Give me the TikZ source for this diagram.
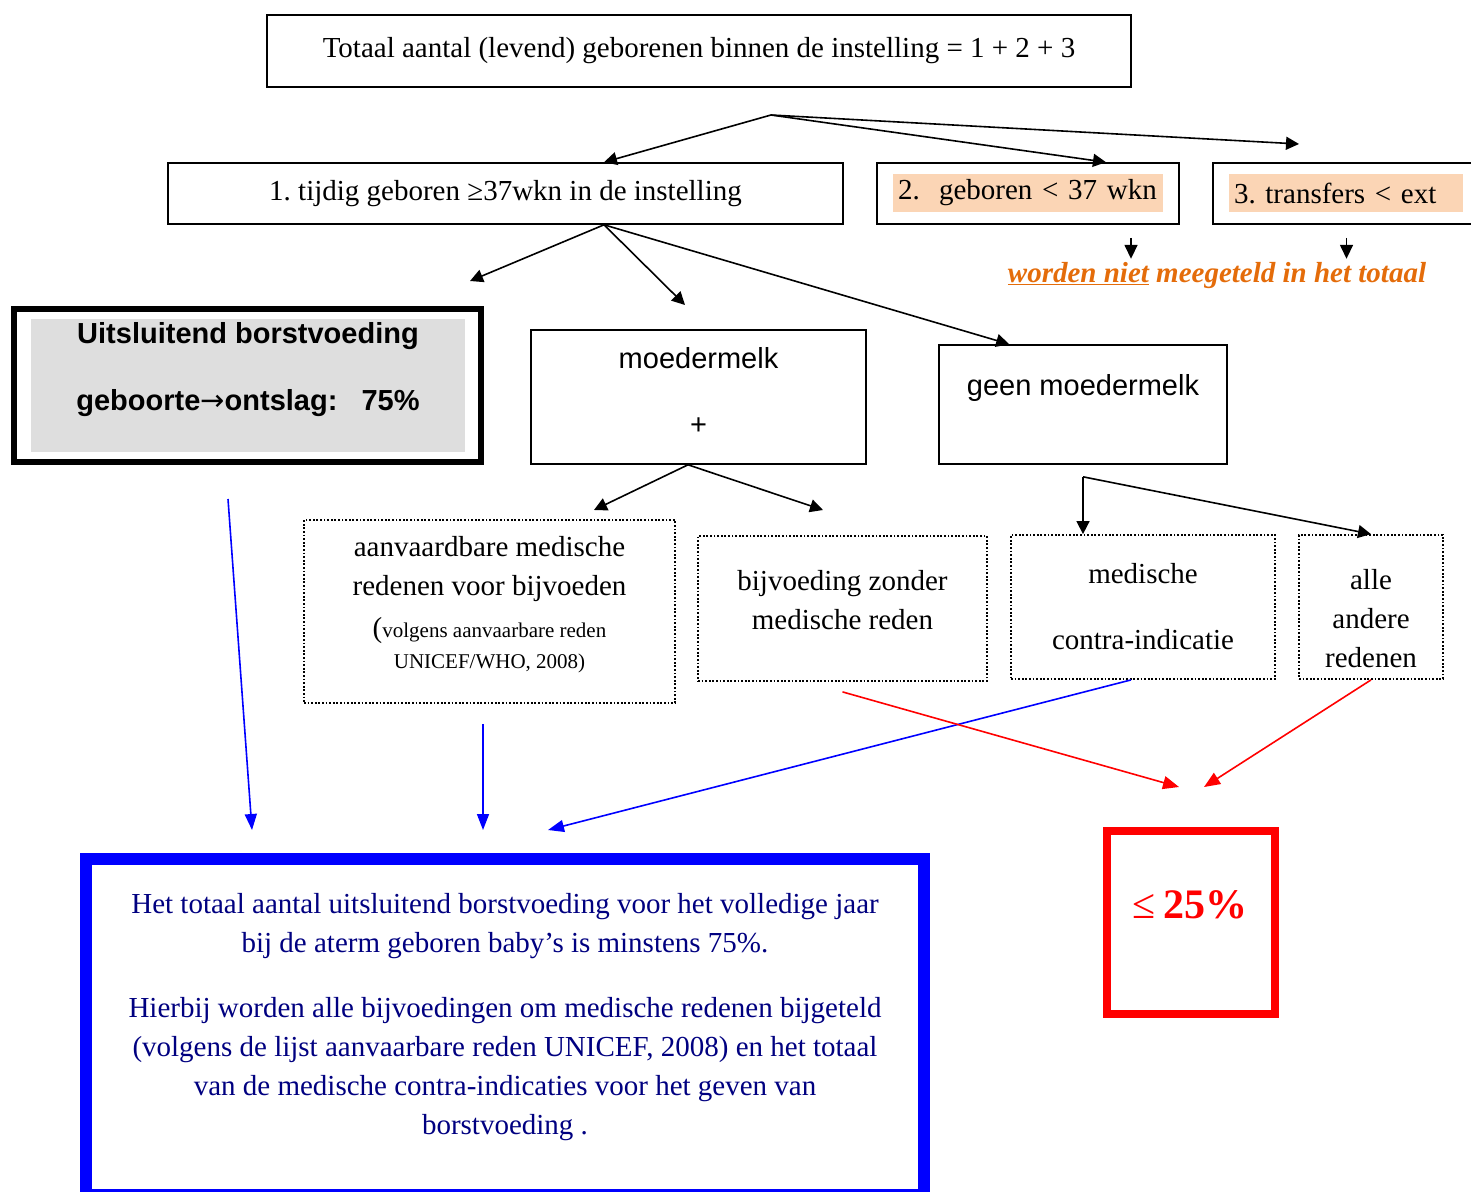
\documentclass[tikz,border=0pt]{standalone}
\usepackage{fontspec}
\setmainfont{Liberation Serif}
\setsansfont{Liberation Sans}
\newfontfamily\pijlfont{DejaVu Sans}
\usetikzlibrary{arrows.meta}

\definecolor{peach}{RGB}{251,213,181}
\definecolor{oranje}{RGB}{228,108,10}
\definecolor{navy}{RGB}{0,0,128}
\definecolor{grijs}{RGB}{222,222,222}
\newcommand{\grootschrift}{\fontsize{29}{39}\selectfont\frenchspacing}

\tikzset{
  box/.style={draw, line width=1.6pt, inner sep=0pt},
  dotbox/.style={draw, line width=1.8pt, dash pattern=on 1.8pt off 1.8pt, inner sep=0pt},
  pijl/.style={line width=1.6pt, -{Triangle[length=13pt,width=13pt]}},
  kleinpijl/.style={line width=1.6pt, -{Triangle[length=14pt,width=13pt]}},
  blauwpijl/.style={blue, line width=1.6pt, -{Triangle[length=16pt,width=12pt]}},
  roodpijl/.style={red, line width=1.6pt, -{Triangle[length=16pt,width=13pt]}}
}

\begin{document}
\begin{tikzpicture}[x=1pt, y=-1pt, font=\grootschrift, align=center]
\useasboundingbox (0,0) rectangle (1471,1191);

\node (totaal) [box, minimum width=864, minimum height=72] at (699,51) {Totaal aantal (levend) geborenen binnen de instelling = 1 + 2 + 3};

\node (een) [box, minimum width=675, minimum height=61] at (505.5,193.5) {1. tijdig geboren ≥37wkn in de instelling};
\node (twee) [box, minimum width=302, minimum height=61] at (1028,193.5) {};
\node (tweetekst) [fill=peach, text width=260, inner xsep=5pt, inner ysep=0pt, minimum height=38, align=left] at (1028,193) {2.\ \ geboren < 37 wkn};
\node (drie) [box, minimum width=267, minimum height=61] at (1346.5,193.5) {};
\node (drietekst) [fill=peach, text width=224, inner xsep=5pt, inner ysep=0pt, minimum height=38, align=left] at (1346,193) {3. transfers < ext};

\node (nietgeteld) [text=oranje, font=\grootschrift\bfseries\itshape] at (1217,276) {\underline{worden niet} meegeteld in het totaal};

\node (borst) [box, line width=6pt, minimum width=467, minimum height=153] at (247.5,385.5) {};
\node (borstgrijs) [fill=grijs, minimum width=434, minimum height=133] at (248,385.5) {};
\node (borsttekst) [font=\grootschrift\sffamily\bfseries] at (248,369.5) {Uitsluitend borstvoeding\\[28pt]geboorte{\pijlfont\mdseries →}ontslag:\ \ \ 75\%};

\node (moeder) [box, minimum width=335, minimum height=134] at (698.5,397) {};
\node (moedertekst) [font=\grootschrift\sffamily] at (698.5,391) {moedermelk\\[27pt]+};
\node (geen) [box, minimum width=288, minimum height=119] at (1083,404.5) {};
\node (geentekst) [font=\grootschrift\sffamily] at (1083,388) {geen moedermelk};

\node (aanv) [dotbox, minimum width=371, minimum height=183] at (489.5,611.5) {};
\node (aanvtekst) at (489.5,569) {aanvaardbare medische\\redenen voor bijvoeden};
\node (aanvbron) [font=\fontsize{21}{31}\selectfont] at (489.5,645) {{\grootschrift(}volgens aanvaarbare reden\\UNICEF/WHO, 2008)};
\node (bijv) [dotbox, minimum width=289, minimum height=145] at (842.5,608.5) {};
\node (bijvtekst) at (842.5,600.5) {bijvoeding zonder\\medische reden};
\node (med) [dotbox, minimum width=264, minimum height=144] at (1143,607) {};
\node (medtekst) at (1143,607) {medische\\[27pt]contra-indicatie};
\node (alle) [dotbox, minimum width=144, minimum height=144] at (1371,607) {};
\node (alletekst) at (1371,618.5) {alle\\andere\\redenen};

\node (jaar) [draw=blue, line width=12pt, inner sep=0pt, minimum width=838, minimum height=336] at (505,1027) {};
\node (jaartekst) [text=navy] at (505,1017.5) {Het totaal aantal uitsluitend borstvoeding voor het volledige jaar\\bij de aterm geboren baby’s is minstens 75\%.\\[26pt]Hierbij worden alle bijvoedingen om medische redenen bijgeteld\\(volgens de lijst aanvaarbare reden UNICEF, 2008) en het totaal\\van de medische contra-indicaties voor het geven van\\borstvoeding .};

\node (kwart) [draw=red, line width=8pt, inner sep=0pt, minimum width=168, minimum height=183] at (1191,922.5) {};
\node (kwarttekst) [text=red, font=\fontsize{42}{50}\selectfont] at (1190,905) {≤\,\textbf{25\%}};

\coordinate (splitsing) at (771,115);
\coordinate (drieIn) at (1299,144);
\coordinate (eenOnder) at ([xshift=98.5pt]een.south);
\coordinate (borstIn) at (470,281);
\coordinate (moederIn) at (685,305);
\coordinate (moederOnder) at ([xshift=-10.5pt]moeder.south);
\coordinate (aanvIn) at (594,510);
\coordinate (bijvIn) at (823,510);
\coordinate (geenSplit) at ([yshift=-12pt]geen.south);
\coordinate (jaarIn1) at (252,830);
\coordinate (jaarIn2) at (483,830);
\coordinate (jaarIn3) at (548,830);
\coordinate (kwartIn1) at (1179,787);
\coordinate (kwartIn2) at (1204,787);

\draw[pijl] (splitsing) -- ([xshift=98.5pt]een.north);
\draw[pijl] (splitsing) -- ([xshift=78pt]twee.north);
\draw[pijl] (splitsing) -- (drieIn);
\draw[kleinpijl] ([xshift=103pt,yshift=-13pt]twee.south) -- ++(0,21);
\draw[kleinpijl] ([yshift=-13pt]drie.south) -- ++(0,21);

\draw[pijl] (eenOnder) -- (borstIn);
\draw[pijl] (eenOnder) -- (moederIn);
\draw[pijl] (eenOnder) -- ([xshift=71pt]geen.north west);
\draw[pijl] (moederOnder) -- (aanvIn);
\draw[pijl] (moederOnder) -- (bijvIn);
\draw[pijl] (geenSplit) -- ([xshift=-60pt]med.north);
\draw[pijl] (geenSplit) -- (alle.north);

\draw[blauwpijl] ([xshift=-19.5pt,yshift=-34pt]borst.south) -- (jaarIn1);
\draw[blauwpijl] ([xshift=-6.5pt,yshift=-20pt]aanv.south) -- (jaarIn2);
\draw[blauwpijl] ([xshift=-12pt]med.south) -- (jaarIn3);
\draw[roodpijl] ([yshift=-10pt]bijv.south) -- (kwartIn1);
\draw[roodpijl] (alle.south) -- (kwartIn2);
\end{tikzpicture}
\end{document}
